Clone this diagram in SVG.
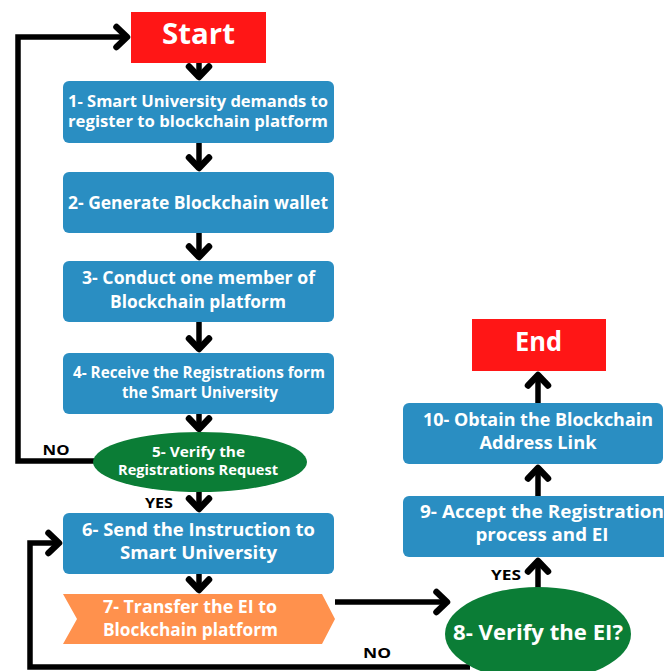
<svg xmlns="http://www.w3.org/2000/svg" width="664" height="671" viewBox="0 0 664 671">
  <style>
    .step { fill: #2A8EC2; }
    .term { fill: #FF1616; }
    .dec { fill: #0B7D36; }
    .xfer { fill: #FF914D; }
    .lbl { fill: #ffffff; font-family: "Open Sans", Lato, sans-serif; font-weight: 700; text-anchor: middle; }
    .tag { fill: #000000; font-family: "Open Sans", Lato, sans-serif; font-weight: 700; text-anchor: middle; }
    .wire { fill: none; stroke: #000000; stroke-width: 5.5; stroke-linejoin: miter; marker-end: url(#chev); }
  </style>
  <defs>
    <!-- open chevron head used on every flow line -->
    <marker id="chev" viewBox="-16 -16 20 32" refX="0" refY="0" markerWidth="20" markerHeight="32" markerUnits="userSpaceOnUse" orient="auto">
      <path d="M-10.5,-10 L0,0 L-10.5,10" fill="none" stroke="#000000" stroke-width="6.5" stroke-linecap="round" stroke-linejoin="round"/>
    </marker>
  </defs>
  <rect width="664" height="671" fill="#ffffff"/>

  <g id="connectors">
    <path class="wire" d="M199,63 V77"/>
    <path class="wire" d="M199,143 V168"/>
    <path class="wire" d="M199,233 V257"/>
    <path class="wire" d="M199,322 V349"/>
    <path class="wire" d="M199,414 V429"/>
    <path class="wire" d="M199,492 V509"/>
    <path class="wire" d="M199,574 V590"/>
    <path class="wire" d="M96,461 H18 V37 H127"/>
    <path class="wire" d="M470,667 H30 V543 H59"/>
    <path class="wire" d="M335,602 H447"/>
    <path class="wire" d="M538,588 V561"/>
    <path class="wire" d="M538,496 V468"/>
    <path class="wire" d="M538,403 V375"/>
  </g>

  <g id="start">
    <rect class="term" x="131" y="12" width="135" height="51"/>
    <text class="lbl" x="198.5" y="44" font-size="29" textLength="73" lengthAdjust="spacingAndGlyphs">Start</text>
  </g>
  <g id="step1">
    <rect class="step" x="63" y="81" width="271" height="62" rx="6"/>
    <text class="lbl" x="198" y="107" font-size="15.5" textLength="260" lengthAdjust="spacingAndGlyphs">1- Smart University demands to</text>
    <text class="lbl" x="198" y="127" font-size="15.5" textLength="260" lengthAdjust="spacingAndGlyphs">register to blockchain platform</text>
  </g>
  <g id="step2">
    <rect class="step" x="63" y="172" width="271" height="61" rx="6"/>
    <text class="lbl" x="198" y="209" font-size="17" textLength="260" lengthAdjust="spacingAndGlyphs">2- Generate Blockchain wallet</text>
  </g>
  <g id="step3">
    <rect class="step" x="63" y="261" width="271" height="61" rx="6"/>
    <text class="lbl" x="198.5" y="284" font-size="17" textLength="233" lengthAdjust="spacingAndGlyphs">3- Conduct one member of</text>
    <text class="lbl" x="198" y="308" font-size="17" textLength="176" lengthAdjust="spacingAndGlyphs">Blockchain platform</text>
  </g>
  <g id="step4">
    <rect class="step" x="63" y="353" width="271" height="61" rx="6"/>
    <text class="lbl" x="199" y="378" font-size="15.5" textLength="252" lengthAdjust="spacingAndGlyphs">4- Receive the Registrations form</text>
    <text class="lbl" x="200" y="398" font-size="15.5" textLength="156" lengthAdjust="spacingAndGlyphs">the Smart University</text>
  </g>
  <g id="step5">
    <ellipse class="dec" cx="200" cy="462" rx="107" ry="30"/>
    <text class="lbl" x="198.5" y="457" font-size="14" textLength="93" lengthAdjust="spacingAndGlyphs">5- Verify the</text>
    <text class="lbl" x="198" y="475" font-size="14" textLength="160" lengthAdjust="spacingAndGlyphs">Registrations Request</text>
  </g>
  <g id="step6">
    <rect class="step" x="63" y="513" width="271" height="61" rx="6"/>
    <text class="lbl" x="198.5" y="536" font-size="17" textLength="233" lengthAdjust="spacingAndGlyphs">6- Send the Instruction to</text>
    <text class="lbl" x="198.5" y="559" font-size="17" textLength="157" lengthAdjust="spacingAndGlyphs">Smart University</text>
  </g>
  <g id="step7">
    <polygon class="xfer" points="63,594 322,594 335,619 322,644 63,644 77,619"/>
    <text class="lbl" x="190" y="613" font-size="17" textLength="174" lengthAdjust="spacingAndGlyphs">7- Transfer the EI to</text>
    <text class="lbl" x="190.5" y="636" font-size="17" textLength="175" lengthAdjust="spacingAndGlyphs">Blockchain platform</text>
  </g>
  <g id="step8">
    <ellipse class="dec" cx="538" cy="634" rx="93" ry="47"/>
    <text class="lbl" x="538" y="640" font-size="22" textLength="170" lengthAdjust="spacingAndGlyphs">8- Verify the EI?</text>
  </g>
  <g id="step9">
    <rect class="step" x="403" y="496" width="280" height="61" rx="6"/>
    <text class="lbl" x="542" y="518" font-size="17" textLength="244" lengthAdjust="spacingAndGlyphs">9- Accept the Registration</text>
    <text class="lbl" x="542" y="541" font-size="17" textLength="133" lengthAdjust="spacingAndGlyphs">process and EI</text>
  </g>
  <g id="step10">
    <rect class="step" x="403" y="403" width="260" height="61" rx="6"/>
    <text class="lbl" x="538" y="426" font-size="17" textLength="230" lengthAdjust="spacingAndGlyphs">10- Obtain the Blockchain</text>
    <text class="lbl" x="538" y="449" font-size="17" textLength="117" lengthAdjust="spacingAndGlyphs">Address Link</text>
  </g>
  <g id="end">
    <rect class="term" x="472" y="319" width="134" height="52"/>
    <text class="lbl" x="538.5" y="351" font-size="26" textLength="47" lengthAdjust="spacingAndGlyphs">End</text>
  </g>

  <g id="labels">
    <text class="tag" x="56" y="455" font-size="14" textLength="27" lengthAdjust="spacingAndGlyphs">NO</text>
    <text class="tag" x="159" y="508" font-size="14" textLength="28" lengthAdjust="spacingAndGlyphs">YES</text>
    <text class="tag" x="506" y="580" font-size="14" textLength="30" lengthAdjust="spacingAndGlyphs">YES</text>
    <text class="tag" x="377" y="658" font-size="14" textLength="28" lengthAdjust="spacingAndGlyphs">NO</text>
  </g>
</svg>
